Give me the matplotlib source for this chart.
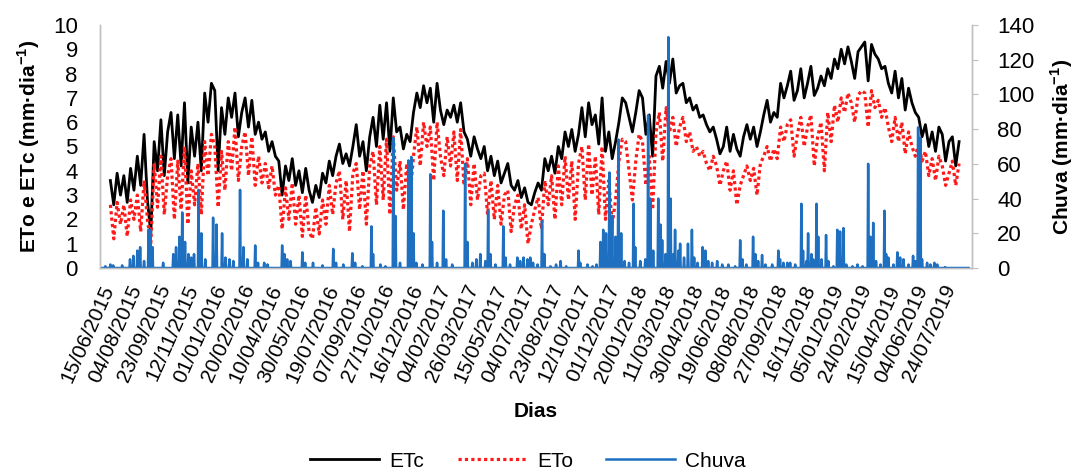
import numpy as np
import matplotlib
matplotlib.use("Agg")
import matplotlib.pyplot as plt

plt.rcParams['font.family'] = ['Liberation Sans', 'DejaVu Sans']

# ---------------- data ----------------
# ETc / ETo sampled every 6 days, first sample on day 18 (day 0 = 15/06/2015)
first_day = 18
sample_step = 6
etc = [
    3.6, 2.6, 3.9, 3.0, 3.8, 2.7, 4.1, 3.2, 4.6, 3.4,
    5.5, 2.8, 1.4, 5.2, 4.0, 6.1, 3.8, 5.6, 6.4, 4.5,
    6.3, 4.2, 6.8, 3.5, 5.8, 4.6, 6.0, 4.0, 7.2, 6.0,
    7.6, 7.3, 4.0, 6.6, 5.5, 7.0, 6.2, 7.2, 5.4, 6.4,
    7.0, 5.8, 6.9, 5.5, 6.0, 5.3, 5.6, 4.8, 5.2, 4.6,
    4.4, 3.0, 4.2, 3.6, 4.5, 3.4, 4.0, 3.1, 4.1, 3.2,
    2.7, 3.4, 2.9, 3.9, 3.5, 4.4, 3.8, 4.6, 5.1, 4.3,
    4.7, 4.2, 5.0, 5.9, 4.6, 5.2, 4.0, 5.4, 6.2, 5.0,
    6.7, 5.3, 6.8, 4.8, 7.0, 5.6, 5.8, 4.9, 5.5, 5.2,
    6.4, 7.2, 6.6, 7.5, 6.8, 7.4, 6.0, 7.6, 6.5, 5.9,
    6.5, 6.2, 6.7, 6.0, 6.8, 5.6, 5.3, 4.6, 5.4, 4.9,
    4.5, 5.0, 4.0, 4.6, 3.8, 4.4, 3.5, 3.9, 4.3, 3.4,
    3.2, 3.6, 2.9, 3.3, 2.7, 2.6, 3.1, 3.5, 3.2, 4.5,
    4.0, 4.6, 3.9, 5.0, 4.5, 5.6, 5.0, 5.7, 4.8, 5.5,
    6.6, 5.4, 6.8, 5.9, 6.3, 5.1, 7.0, 4.8, 5.6, 4.5,
    5.2, 6.0, 7.0, 6.8, 6.2, 5.6, 6.4, 7.3, 7.0, 5.5,
    6.3, 4.6, 7.9, 8.3, 7.4, 8.5, 7.6, 8.6, 7.2, 7.5,
    7.6, 6.8, 7.0, 6.5, 6.7, 6.2, 6.3, 5.9, 5.6, 5.8,
    5.3, 4.7, 5.0, 5.8, 4.8, 5.5, 4.9, 4.6, 5.4, 5.9,
    5.3, 5.8, 5.0, 5.6, 6.3, 6.9, 6.0, 6.4, 6.2, 7.6,
    7.0, 7.5, 8.1, 6.9, 7.3, 8.2, 7.0, 7.6, 8.3, 7.1,
    7.4, 7.9, 7.5, 8.2, 7.8, 8.6, 8.2, 9.0, 8.4, 9.1,
    8.5, 7.8, 8.9, 9.1, 9.3, 7.7, 9.2, 8.8, 8.6, 8.2,
    8.3, 7.6, 7.2, 8.1, 7.0, 7.8, 6.5, 7.4, 6.8, 6.4,
    6.2, 5.4, 5.9, 5.0, 5.6, 4.8, 5.8, 5.5, 4.4, 5.2,
    5.4, 4.2, 5.2,
]
eto = [
    2.6, 1.2, 2.7, 1.8, 2.6, 1.3, 2.8, 2.0, 3.0, 1.5,
    3.6, 2.0, 1.0, 4.3, 2.5, 4.6, 2.2, 3.8, 4.5, 2.0,
    4.4, 2.4, 5.0, 1.8, 4.0, 2.6, 4.3, 2.2, 5.2, 3.8,
    5.5, 5.0, 2.5, 4.8, 3.2, 5.2, 4.0, 5.8, 3.6, 5.0,
    5.6, 3.8, 5.4, 3.4, 4.6, 3.5, 4.3, 3.3, 4.2, 3.0,
    3.4, 1.6, 3.3, 2.0, 3.5, 1.8, 3.0, 1.3, 3.0, 1.5,
    1.2, 2.5, 1.4, 2.8, 1.8, 3.4, 2.2, 3.5, 4.0, 2.0,
    3.6, 1.5, 3.9, 4.3, 2.4, 4.0, 1.8, 4.2, 4.8, 2.6,
    5.0, 2.8, 5.3, 2.2, 5.4, 3.2, 4.4, 2.4, 4.3, 3.0,
    4.6, 5.8, 4.2, 6.0, 5.0, 5.8, 3.6, 6.0, 4.6, 3.8,
    5.4, 4.2, 5.6, 3.6, 5.7, 3.4, 4.5, 2.6, 4.3, 2.8,
    3.8, 3.9, 2.2, 3.6, 2.0, 3.4, 1.8, 3.0, 3.2, 1.5,
    2.6, 3.0, 1.6, 2.6, 1.0, 1.8, 2.4, 2.9, 1.6, 3.6,
    2.6, 3.8, 2.0, 4.2, 2.6, 4.6, 2.8, 4.4, 2.0, 4.3,
    5.0, 2.8, 5.1, 3.0, 4.6, 2.2, 5.0, 2.0, 3.6, 1.8,
    2.8, 4.4, 5.3, 5.2, 4.0, 2.8, 4.4, 5.5, 5.2, 3.4,
    4.6, 2.4, 5.6, 6.4, 4.4, 6.6, 5.6, 6.2, 5.0, 5.8,
    6.2, 5.2, 5.6, 4.8, 5.0, 4.6, 4.8, 4.3, 4.0, 4.6,
    4.2, 3.4, 4.0, 4.4, 3.2, 4.0, 2.6, 3.4, 3.8, 4.2,
    3.6, 4.1, 3.0, 4.3, 4.6, 5.0, 4.4, 4.9, 4.5, 5.8,
    5.2, 5.9, 6.1, 4.6, 5.5, 6.2, 5.0, 5.8, 6.3, 4.2,
    5.4, 6.0, 4.0, 6.4, 5.2, 6.7, 6.0, 7.0, 6.4, 7.2,
    6.8, 6.0, 7.1, 7.3, 7.2, 5.8, 7.3, 6.6, 6.9, 6.2,
    6.6, 5.8, 5.2, 6.2, 5.2, 6.0, 4.7, 5.6, 5.0, 4.6,
    5.1, 4.4, 4.8, 3.8, 4.5, 3.6, 4.6, 4.2, 3.4, 3.9,
    4.4, 3.4, 4.3,
]

# Rain: days with rainfall (day index from 15/06/2015) and amount (mm/day)
n_days = 1548
rain_day = [
    9, 18, 23, 39, 53, 59, 66, 71, 78, 86, 89, 93, 112, 130, 135, 141, 146, 151,
    157, 162, 167, 175, 180, 187, 201, 207, 217, 223, 230, 237, 249, 255, 262,
    276, 281, 292, 298, 324, 328, 333, 339, 360, 365, 379, 396, 415, 420, 433,
    449, 454, 467, 483, 486, 499, 508, 522, 526, 534, 549, 554, 558, 563, 574,
    588, 591, 600, 611, 616, 627, 650, 654, 663, 670, 677, 686, 691, 695, 704,
    718, 722, 730, 743, 748, 754, 761, 766, 771, 779, 787, 791, 802, 812, 820,
    830, 852, 855, 868, 877, 884, 891, 896, 901, 907, 912, 918, 923, 928, 934,
    942, 950, 953, 962, 971, 976, 980, 985, 994, 998, 1001, 1007, 1012, 1016,
    1021, 1024, 1030, 1033, 1040, 1047, 1054, 1058, 1064, 1073, 1078, 1083,
    1090, 1099, 1108, 1119, 1131, 1140, 1144, 1151, 1163, 1167, 1172, 1179,
    1185, 1197, 1208, 1211, 1217, 1224, 1229, 1238, 1249, 1252, 1258, 1261,
    1267, 1270, 1276, 1279, 1285, 1293, 1297, 1306, 1313, 1318, 1324, 1329,
    1340, 1349, 1358, 1368, 1372, 1377, 1382, 1390, 1397, 1400, 1404, 1413,
    1420, 1425, 1431, 1440, 1448, 1452, 1457, 1461, 1464, 1473, 1479, 1486,
    1491, 1505,
]
rain_mm = [
    1, 2, 1.5, 1.5, 5, 7, 10, 12, 4, 22, 22, 12, 3, 8, 12, 18, 32, 15,
    8, 6, 8, 45, 20, 5, 29, 25, 20, 6, 5, 4, 45, 12, 5,
    13, 3, 3, 2, 13, 8, 5, 4, 9, 3, 3, 1.5, 11, 3, 2,
    8.5, 3, 1, 24, 8, 2, 1, 75, 30, 3, 62, 64, 20, 3, 2,
    54, 15, 3, 33, 5, 2, 60, 15, 3, 5, 8, 4, 33, 8, 2,
    24, 6, 2, 6, 4, 6, 5, 6, 3, 2, 27, 8, 1, 2, 4,
    1, 10, 3, 2, 1, 2, 15, 22, 20, 55, 30, 18, 74, 20, 4,
    3, 37, 12, 4, 5, 88, 40, 10, 40, 25, 16, 8, 133, 40,
    8, 22, 10, 14, 6, 14, 22, 6, 3, 12, 10, 4,
    3, 4, 2, 2, 1, 16, 5, 2, 18, 8, 4, 7.5,
    2, 2, 10, 5, 3, 3, 3, 2, 37, 10, 4, 20,
    8, 5, 37, 18, 5, 19, 4, 1, 22, 21, 23, 2,
    1, 2, 1, 60, 18, 26, 4, 2, 33, 8, 6, 2,
    9, 6, 5, 2, 7, 4, 81, 75, 5, 3, 2, 3,
    2, 0.5,
]

tick_days = list(range(0, 1501, 50))
tick_labels = [
    "15/06/2015", "04/08/2015", "23/09/2015", "12/11/2015", "01/01/2016",
    "20/02/2016", "10/04/2016", "30/05/2016", "19/07/2016", "07/09/2016",
    "27/10/2016", "16/12/2016", "04/02/2017", "26/03/2017", "15/05/2017",
    "04/07/2017", "23/08/2017", "12/10/2017", "01/12/2017", "20/01/2018",
    "11/03/2018", "30/04/2018", "19/06/2018", "08/08/2018", "27/09/2018",
    "16/11/2018", "05/01/2019", "24/02/2019", "15/04/2019", "04/06/2019",
    "24/07/2019",
]

# ---------------- figure ----------------
et_days = first_day + sample_step * np.arange(len(etc))
rain = np.zeros(n_days)
rain[np.array(rain_day)] = rain_mm

fig = plt.figure(figsize=(10.78, 4.73), dpi=100)
ax = fig.add_axes([100 / 1078, 1 - 268 / 473, 872 / 1078, 243 / 473])
ax2 = ax.twinx()

l1, = ax.plot(et_days, etc, color='black', lw=2.0, label='ETc', zorder=2)
l2, = ax.plot(et_days, eto, color='#ff1a1a', lw=2.3, ls=(0, (1, 1)), label='ETo', zorder=3)
l3, = ax2.plot(np.arange(n_days), rain, color='#1f6fc0', lw=1.8, label='Chuva')

ax.set_xlim(-0.5, 1553)
ax.set_ylim(0, 10)
ax2.set_ylim(0, 140)
ax.set_yticks(range(0, 11))
ax2.set_yticks(range(0, 141, 20))
ax.set_xticks(tick_days)
ax.set_xticklabels(tick_labels, rotation=66, ha='right', va='top',
                   rotation_mode='anchor', fontsize=15)

for a in (ax, ax2):
    for s in a.spines.values():
        s.set_color('#bfbfbf')
        s.set_linewidth(1.0)
ax.spines['top'].set_visible(False)
ax2.spines['top'].set_visible(False)

ax.tick_params(axis='y', length=0, labelsize=16, pad=16)
ax.tick_params(axis='x', length=0, pad=10)
ax2.tick_params(axis='y', length=4, color='#bfbfbf', labelsize=16, pad=14)

ax.set_ylabel('ETo e ETc (mm·dia$^{\\mathregular{-1}}$)', fontsize=15,
              fontweight='bold', labelpad=8)
ax2.set_ylabel('Chuva (mm·dia$^{\\mathregular{-1}}$)', fontsize=15,
               fontweight='bold', labelpad=10)
ax.set_xlabel('Dias', fontsize=15, fontweight='bold', labelpad=12)

fig.legend(handles=[l1, l2, l3], loc='center', bbox_to_anchor=(0.49, 0.025),
           ncol=3, frameon=False, fontsize=15, handlelength=3.3,
           columnspacing=1.6, handletextpad=0.5)

fig.savefig('out.png', dpi=100)
